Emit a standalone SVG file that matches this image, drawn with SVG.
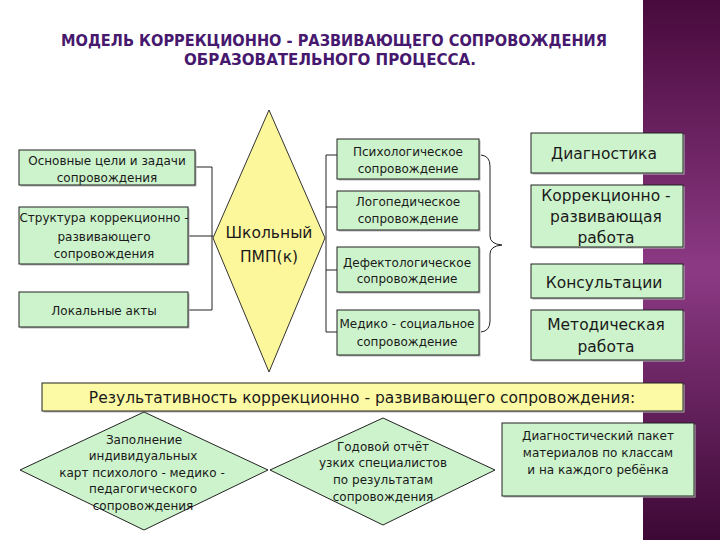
<svg xmlns="http://www.w3.org/2000/svg" width="720" height="540" viewBox="0 0 720 540">
<defs>
<linearGradient id="purp" x1="0" y1="0" x2="0" y2="1">
<stop offset="0" stop-color="#480a3c"/>
<stop offset="0.5" stop-color="#8c3a84"/>
<stop offset="1" stop-color="#3c0834"/>
</linearGradient>
<style>
.t{font-family:"DejaVu Sans","Noto Sans",sans-serif;fill:#1a1a1a;text-anchor:middle}
.s{font-size:12px}
.m{font-size:15.5px}
.box{fill:#cdf3cc;stroke:#222;stroke-width:1}
.sh{fill:#b4b4b4}
.ln{fill:none;stroke:#222;stroke-width:1}
.title{font-family:"DejaVu Sans","Noto Sans",sans-serif;font-weight:bold;font-size:16px;fill:#46186e;text-anchor:middle}
</style>
</defs>
<rect width="720" height="540" fill="#ffffff"/>
<rect x="643" y="0" width="77" height="540" fill="url(#purp)"/>

<g id="title">
<text class="title" x="334" y="46" textLength="546" lengthAdjust="spacingAndGlyphs">МОДЕЛЬ КОРРЕКЦИОННО - РАЗВИВАЮЩЕГО СОПРОВОЖДЕНИЯ</text>
<text class="title" x="330" y="65" textLength="292" lengthAdjust="spacingAndGlyphs">ОБРАЗОВАТЕЛЬНОГО ПРОЦЕССА.</text>
</g>

<g id="connectors">
<path class="ln" d="M195 167H212M188 236H213M188 310H212M212 167V310"/>
<path class="ln" d="M326 155V332M326 155H337M326 207H337M326 270H337M326 332H337"/>
<path class="ln" d="M481 155Q490 156 490 166V236Q490 244 502 245Q490 246 490 254V321Q490 331 481 332"/>
</g>

<g id="left1"><rect class="sh" x="20.5" y="151.5" width="176" height="35"/><rect class="box" x="19" y="150" width="176" height="35"/>
<text class="t s" x="107" y="165">Основные цели и задачи</text><text class="t s" x="107" y="182">сопровождения</text></g>
<g id="left2"><rect class="sh" x="20.5" y="208.5" width="169" height="57"/><rect class="box" x="19" y="207" width="169" height="57"/>
<text class="t s" x="104" y="222">Структура коррекционно -</text><text class="t s" x="104" y="241">развивающего</text><text class="t s" x="104" y="258">сопровождения</text></g>
<g id="left3"><rect class="sh" x="20.5" y="293.5" width="169" height="35"/><rect class="box" x="19" y="292" width="169" height="35"/>
<text class="t s" x="104" y="315">Локальные акты</text></g>

<g id="pmp"><polygon points="269,110 325,238 269,372 213,238" fill="#fdf79b" stroke="#333" stroke-width="1"/>
<text class="t m" x="269" y="238">Школьный</text><text class="t m" x="269" y="262">ПМП(к)</text></g>

<g id="mid1"><rect class="sh" x="338.5" y="140.5" width="142" height="40"/><rect class="box" x="337" y="139" width="142" height="40"/>
<text class="t s" x="408" y="156">Психологическое</text><text class="t s" x="408" y="173">сопровождение</text></g>
<g id="mid2"><rect class="sh" x="338.5" y="192.5" width="142" height="39"/><rect class="box" x="337" y="191" width="142" height="39"/>
<text class="t s" x="408" y="206">Логопедическое</text><text class="t s" x="408" y="223">сопровождение</text></g>
<g id="mid3"><rect class="sh" x="338.5" y="248.5" width="142" height="45"/><rect class="box" x="337" y="247" width="142" height="45"/>
<text class="t s" x="407" y="267">Дефектологическое</text><text class="t s" x="407" y="283">сопровождение</text></g>
<g id="mid4"><rect class="sh" x="338.5" y="311.5" width="142" height="45"/><rect class="box" x="337" y="310" width="142" height="45"/>
<text class="t s" x="407" y="328">Медико - социальное</text><text class="t s" x="407" y="346">сопровождение</text></g>

<g id="r1"><rect class="sh" x="532.5" y="134.5" width="152" height="40"/><rect class="box" x="531" y="133" width="152" height="40"/>
<text class="t m" x="604" y="159">Диагностика</text></g>
<g id="r2"><rect class="sh" x="532.5" y="186.5" width="152" height="62"/><rect class="box" x="531" y="185" width="152" height="62"/>
<text class="t m" x="606" y="201">Коррекционно -</text><text class="t m" x="606" y="222">развивающая</text><text class="t m" x="606" y="243">работа</text></g>
<g id="r3"><rect class="sh" x="532.5" y="265.5" width="152" height="34"/><rect class="box" x="531" y="264" width="152" height="34"/>
<text class="t m" x="604" y="288">Консультации</text></g>
<g id="r4"><rect class="sh" x="532.5" y="311.5" width="152" height="50"/><rect class="box" x="531" y="310" width="152" height="50"/>
<text class="t m" x="606" y="330">Методическая</text><text class="t m" x="606" y="352">работа</text></g>

<g id="bar"><rect class="sh" x="43.5" y="384.5" width="641" height="28"/><rect x="42" y="383" width="641" height="28" fill="#fdfaa5" stroke="#222" stroke-width="1"/>
<text class="t m" x="362" y="403">Результативность коррекционно - развивающего сопровождения:</text></g>

<g id="d1"><polygon points="144,412 268,470 144,530 20,470" fill="#cdf3cc" stroke="#222" stroke-width="1"/>
<text class="t s" x="144" y="444">Заполнение</text><text class="t s" x="143" y="460">индивидуальных</text><text class="t s" x="142" y="477">карт психолого - медико -</text><text class="t s" x="143" y="493">педагогического</text><text class="t s" x="143" y="510">сопровождения</text></g>
<g id="d2"><polygon points="383,418 495,470 383,525 270,470" fill="#cdf3cc" stroke="#222" stroke-width="1"/>
<text class="t s" x="383" y="451">Годовой отчёт</text><text class="t s" x="383" y="467">узких специалистов</text><text class="t s" x="383" y="484">по результатам</text><text class="t s" x="383" y="501">сопровождения</text></g>
<g id="b3"><rect class="sh" x="503.5" y="424.5" width="192" height="73"/><rect class="box" x="502" y="423" width="192" height="73"/>
<text class="t s" x="598" y="440">Диагностический пакет</text><text class="t s" x="598" y="457">материалов по классам</text><text class="t s" x="598" y="474">и на каждого ребёнка</text></g>
</svg>
